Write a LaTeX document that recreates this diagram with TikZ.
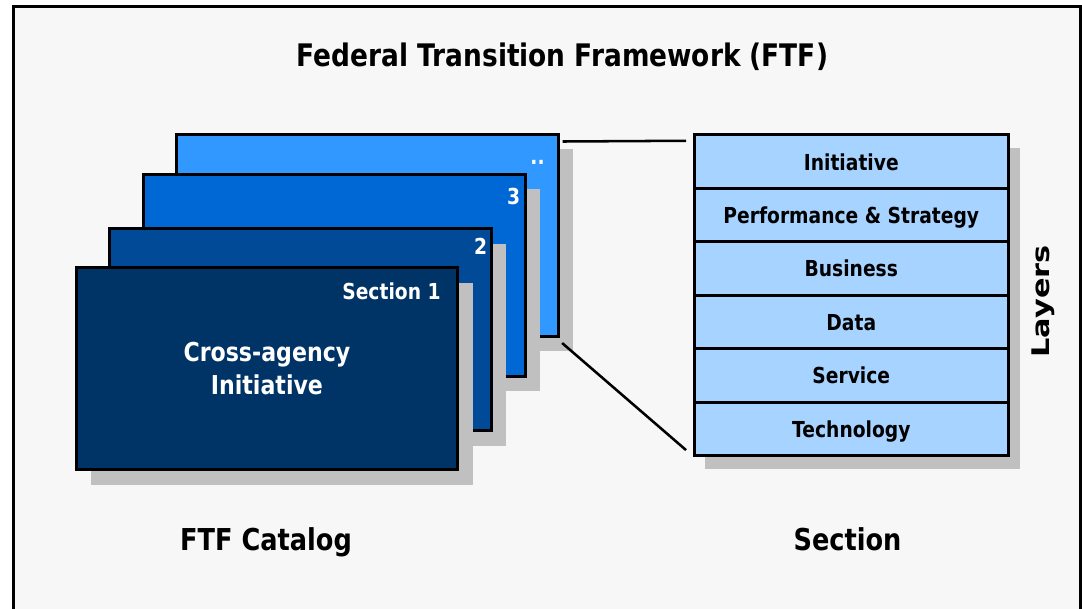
\documentclass[tikz,border=0pt]{standalone}
\usepackage{fontspec}
\setmainfont{DejaVu Sans}[FakeStretch=0.85]
\newfontfamily\widefont{DejaVu Sans}[FakeStretch=1.25]
\usepackage{tikz}
\usetikzlibrary{calc}
\usetikzlibrary{positioning}
\usetikzlibrary{shadows}

\definecolor{pagegray}{HTML}{F7F7F7}
\definecolor{shadowgray}{HTML}{C0C0C0}
\definecolor{navy}{HTML}{003366}
\definecolor{darkblue}{HTML}{004A97}
\definecolor{midblue}{HTML}{0068D4}
\definecolor{brightblue}{HTML}{3098FF}
\definecolor{paleblue}{HTML}{A6D3FF}

\begin{document}
\begin{tikzpicture}[x=0.75pt, y=-0.75pt, semithick,                                    % pixel grid, y runs down
        node distance = 40.1pt, on grid,                                              % layer rows placement
        card/.style = {rectangle, draw=black, line width=2.25pt, outer sep=0pt,
            minimum width=286.2pt, minimum height=151.5pt,
            drop shadow={shadow xshift=11.25pt, shadow yshift=-11.5pt, fill=shadowgray, opacity=1}},   % catalog sections
        layer/.style = {rectangle, draw=black, fill=paleblue, line width=2.25pt, outer sep=0pt,
            minimum width=235.9pt, minimum height=40.1pt, text height=16pt, text depth=3.2pt,
            font=\bfseries\fontsize{16.5}{18}\selectfont,
            drop shadow={shadow xshift=8.25pt, shadow yshift=-10pt, fill=shadowgray, opacity=1}},      % section layers
        cardlabel/.style = {text=white, inner sep=0pt, anchor=base east, font=\bfseries\fontsize{16.5}{20}\selectfont},
        caption/.style = {inner sep=0pt, anchor=base, font=\bfseries\fontsize{22.6}{27}\selectfont},
        zoomline/.style = {line width=1.9pt}]
        \useasboundingbox (0,0) rectangle (1082,608);
        %frame
        \draw[line width=2.25pt, fill=pagegray] (13.7,620) -- (13.7,6.5) -- (1080.5,6.5) -- (1080.5,620);
        \node[caption, font=\bfseries\fontsize{23.3}{27}\selectfont] (title) at (562.5,66) {Federal Transition Framework (FTF)};
        %catalog
        \node[card, fill=brightblue] (sec4) at (367.3,235) {};
        \node[card, fill=midblue] (sec3) at (334.3,275) {};
        \node[card, fill=darkblue] (sec2) at (300.2,329.2) {};
        \node[card, fill=navy] (sec1) at (266.9,368.2) {};
        \node[cardlabel] (lab4) at (545,164) {..};
        \node[cardlabel] (lab3) at (520.5,204) {3};
        \node[cardlabel] (lab2) at (487.6,254) {2};
        \node[cardlabel] (lab1) at (441,299.3) {Section 1};
        \node[text=white, align=center, font=\bfseries\fontsize{19.5}{24.75}\selectfont] (cross) at (sec1) {Cross-agency\\Initiative};
        \node[caption] (catalog) at (266,550) {FTF Catalog};
        %section
        \node[layer] (ini) at (851.3,161.5) {Initiative};
        \node[layer] (perf) [below =of ini] {Performance \& Strategy};
        \node[layer] (bus) [below =of perf] {Business};
        \node[layer] (data) [below =of bus] {Data};
        \node[layer] (serv) [below =of data] {Service};
        \node[layer] (tech) [below =of serv] {Technology};
        \node[rotate=90, inner sep=0pt, font=\widefont\bfseries\fontsize{18.2}{22}\selectfont] (layers) at (1043,301.5) {Layers};
        \node[caption] (section) at (847.5,550) {Section};
        %edge:zoom
        \coordinate (zoomtop) at ($(sec4.north east)+(4.5,7.5)$);
        \coordinate (zoombot) at ($(sec4.south east)+(4,7)$);
        \coordinate (stacktop) at ($(ini.north west)+(-8,6)$);
        \coordinate (stackbot) at ($(tech.south west)+(-8,-5.5)$);
        \path[-, zoomline]
            (zoomtop) edge (stacktop)
            (zoombot) edge (stackbot);
    \end{tikzpicture}
\end{document}
